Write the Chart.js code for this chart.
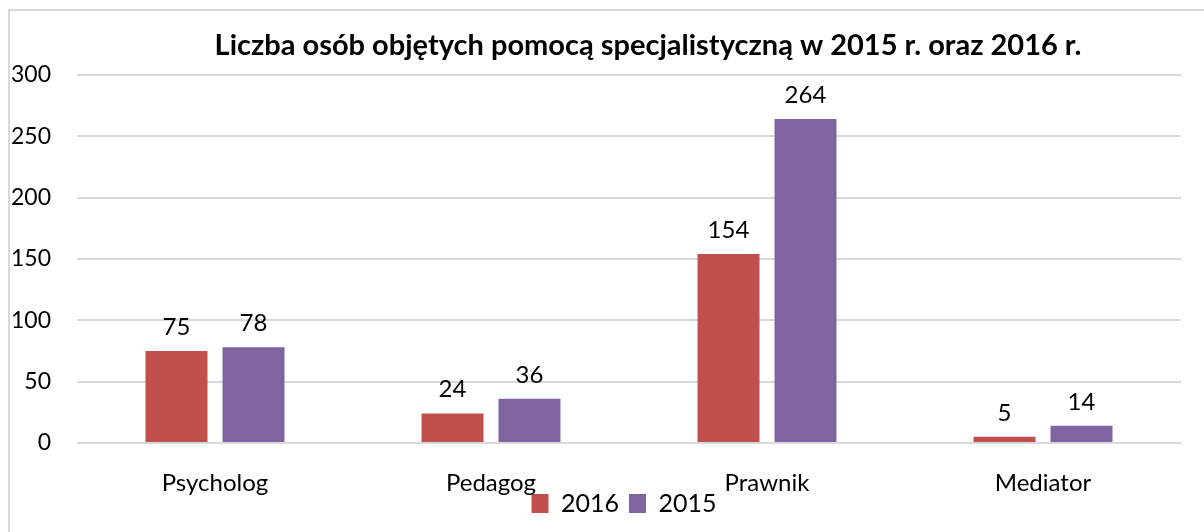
<!DOCTYPE html>
<html>
<head>
<meta charset="utf-8">
<script src="https://cdn.jsdelivr.net/npm/chart.js"></script>
<style>
  html, body { margin: 0; padding: 0; background: #fff; overflow: hidden; }
  #frame { position: absolute; left: 8px; top: 9px; width: 1300px; height: 600px; border: 2px solid #d9d9d9; }
  #wrap { position: absolute; left: 11px; top: 12px; width: 1193px; height: 548px; }
</style>
</head>
<body>
<div id="frame"></div>
<div id="wrap"><canvas id="chart"></canvas></div>
<script>
// dane z wykresu
const categories = ['Psycholog', 'Pedagog', 'Prawnik', 'Mediator'];
const values2016 = [75, 24, 154, 5];
const values2015 = [78, 36, 264, 14];
const yTicks = [0, 50, 100, 150, 200, 250, 300];

const FONT = 'Lato, "Liberation Sans", sans-serif';

// etykiety wartości nad słupkami
const valueLabels = {
  id: 'valueLabels',
  afterDatasetsDraw(chart) {
    const ctx = chart.ctx;
    ctx.save();
    ctx.font = '24px ' + FONT;
    ctx.fillStyle = '#000';
    ctx.textAlign = 'center';
    ctx.textBaseline = 'middle';
    chart.data.datasets.forEach((ds, i) => {
      chart.getDatasetMeta(i).data.forEach((bar, j) => {
        ctx.fillText(String(ds.data[j]), bar.x, bar.y - 24);
      });
    });
    ctx.restore();
  }
};

// przesunięcie tytułu i legendy jak w oryginale
const shiftBoxes = {
  id: 'shiftBoxes',
  afterLayout(chart) {
    const lg = chart.legend;
    lg.left -= 5; lg.right -= 5;
    lg.top -= 34; lg.bottom -= 34;
    const t = chart.titleBlock;
    if (t) { t.left += 19; t.right += 19; }
  }
};

new Chart('chart', {
  type: 'bar',
  data: {
    labels: categories,
    datasets: [
      { label: '2016', data: values2016, backgroundColor: '#C0504D' },
      { label: '2015', data: values2015, backgroundColor: '#8064A2' }
    ]
  },
  plugins: [valueLabels, shiftBoxes],
  options: {
    responsive: true,
    maintainAspectRatio: false,
    animation: false,
    categoryPercentage: 0.558,
    barPercentage: 0.805,
    layout: { padding: { left: 0, right: 23, top: 0, bottom: 0 } },
    plugins: {
      title: {
        display: true,
        fullSize: false,
        text: 'Liczba osób objętych pomocą specjalistyczną w 2015 r. oraz 2016 r.',
        color: '#000',
        font: { family: FONT, size: 29, weight: 'bold' },
        padding: { top: 16, bottom: 12 }
      },
      legend: {
        position: 'bottom',
        fullSize: false,
        labels: {
          color: '#000',
          font: { family: FONT, size: 25 },
          boxWidth: 17,
          boxHeight: 19,
          padding: 10
        }
      },
      tooltip: { enabled: false }
    },
    scales: {
      x: {
        grid: { display: false },
        border: { display: false },
        ticks: { color: '#000', font: { family: FONT, size: 24, lineHeight: 1 }, padding: 20 }
      },
      y: {
        min: 0,
        max: 300,
        afterBuildTicks(scale) { scale.ticks = yTicks.map(v => ({ value: v })); },
        afterFit(scale) { scale.width = 66; },
        grid: { color: '#d9d9d9', lineWidth: 2, drawTicks: false },
        border: { display: false },
        ticks: { color: '#000', font: { family: FONT, size: 23 }, padding: 26 }
      }
    }
  }
});
</script>
</body>
</html>
